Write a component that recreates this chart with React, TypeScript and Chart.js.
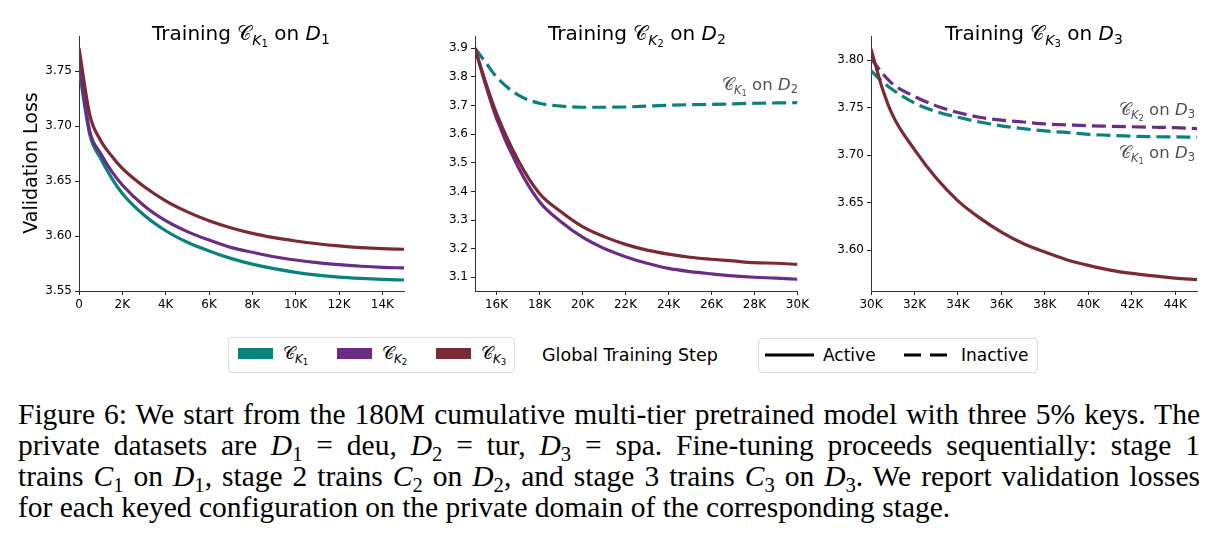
import React, { useEffect, useLayoutEffect, useRef } from "react";
import { Chart, registerables } from "chart.js";

Chart.register(...registerables);

const TEAL = "#0b817d";
const PURPLE = "#6a2d84";
const MAROON = "#7a2a33";

// ---------- Panel 1: training C_K1 on D1 ----------
const steps1 = [0, 500, 1000, 1500, 2000, 3000, 4000, 5000, 6000, 7000, 8000, 9000, 10000, 11000, 12000, 13000, 14000, 15000];
const k3OnD1 = [3.771, 3.71, 3.687, 3.673, 3.6615, 3.645, 3.632, 3.622, 3.614, 3.6076, 3.6024, 3.5985, 3.5955, 3.593, 3.591, 3.5895, 3.5885, 3.588];
const k2OnD1 = [3.758, 3.695, 3.675, 3.659, 3.6464, 3.6276, 3.614, 3.604, 3.5964, 3.5897, 3.5852, 3.5812, 3.5782, 3.5758, 3.574, 3.5725, 3.5715, 3.571];
const k1OnD1 = [3.752, 3.692, 3.6706, 3.653, 3.6388, 3.6191, 3.6048, 3.5943, 3.5864, 3.5797, 3.5745, 3.5703, 3.567, 3.5645, 3.5627, 3.5615, 3.5606, 3.56];
const xTicks1 = [0, 2000, 4000, 6000, 8000, 10000, 12000, 14000];
const yTicks1 = [3.55, 3.6, 3.65, 3.7, 3.75];

// ---------- Panel 2: training C_K2 on D2 ----------
const steps2 = [15000, 15500, 16000, 17000, 18000, 19000, 20000, 21000, 22000, 23000, 24000, 25000, 26000, 27000, 28000, 29000, 30000];
const k3OnD2 = [3.9, 3.78, 3.673, 3.51, 3.393, 3.329, 3.277, 3.242, 3.215, 3.195, 3.181, 3.17, 3.163, 3.157, 3.151, 3.149, 3.145];
const k2OnD2 = [3.9, 3.77, 3.655, 3.486, 3.364, 3.294, 3.24, 3.201, 3.172, 3.149, 3.131, 3.12, 3.112, 3.105, 3.1, 3.097, 3.093];
const k1OnD2 = [3.9, 3.85, 3.8, 3.737, 3.708, 3.698, 3.694, 3.694, 3.695, 3.698, 3.701, 3.703, 3.704, 3.706, 3.708, 3.709, 3.71];
const xTicks2 = [16000, 18000, 20000, 22000, 24000, 26000, 28000, 30000];
const yTicks2 = [3.1, 3.2, 3.3, 3.4, 3.5, 3.6, 3.7, 3.8, 3.9];

// ---------- Panel 3: training C_K3 on D3 ----------
const steps3 = [30000, 30500, 31000, 32000, 33000, 34000, 35000, 36000, 37000, 38000, 39000, 40000, 41000, 42000, 43000, 44000, 45000];
const k3OnD3 = [3.812, 3.772, 3.742, 3.706, 3.676, 3.652, 3.634, 3.619, 3.607, 3.598, 3.59, 3.584, 3.579, 3.5755, 3.573, 3.5705, 3.569];
const k2OnD3 = [3.802, 3.787, 3.775, 3.762, 3.752, 3.745, 3.74, 3.737, 3.735, 3.733, 3.732, 3.731, 3.7305, 3.73, 3.7295, 3.729, 3.728];
const k1OnD3 = [3.789, 3.778, 3.769, 3.755, 3.746, 3.74, 3.735, 3.731, 3.728, 3.7256, 3.724, 3.722, 3.721, 3.72, 3.7195, 3.7193, 3.719];
const xTicks3 = [30000, 32000, 34000, 36000, 38000, 40000, 42000, 44000];
const yTicks3 = [3.6, 3.65, 3.7, 3.75, 3.8];

const PAD_TOP = 16;
const X_AXIS_H = 29;
const FONT = "'DejaVu Sans', sans-serif";
const CAPTION_WIDTH = 1182;

type Series = { values: number[]; color: string; dashed: boolean };

function buildConfig(
  steps: number[],
  series: Series[],
  xMin: number,
  xMax: number,
  xTicks: number[],
  yMin: number,
  yMax: number,
  yTicks: number[],
  yDecimals: number,
  yWidth: number,
  padRight: number
): any {
  const tickFont = { family: "DejaVu Sans", size: 12 };
  const gridOpts = { drawOnChartArea: false, drawTicks: true, tickLength: 4, color: "#222", lineWidth: 1 };
  const borderOpts = { display: true, color: "#333", width: 1 };
  return {
    type: "line",
    data: {
      datasets: series.map((s) => ({
        data: steps.map((x, i) => ({ x, y: s.values[i] })),
        borderColor: s.color,
        backgroundColor: s.color,
        borderWidth: 3.2,
        borderDash: s.dashed ? [14, 6] : [],
        borderCapStyle: "butt",
        borderJoinStyle: "round",
        pointRadius: 0,
        pointHoverRadius: 0,
        fill: false,
        cubicInterpolationMode: "monotone",
      })),
    },
    options: {
      responsive: false,
      animation: false,
      devicePixelRatio: 1,
      events: [],
      layout: { padding: { top: PAD_TOP, right: padRight, left: 0, bottom: 0 } },
      plugins: {
        legend: { display: false },
        tooltip: { enabled: false },
        title: { display: false },
      },
      scales: {
        x: {
          type: "linear",
          min: xMin,
          max: xMax,
          afterBuildTicks: (s: any) => {
            s.ticks = xTicks.map((v) => ({ value: v }));
          },
          ticks: {
            autoSkip: false,
            maxRotation: 0,
            minRotation: 0,
            padding: 3,
            color: "#000",
            font: tickFont,
            callback: (v: number) => (v === 0 ? "0" : `${Math.round(v / 1000)}K`),
          },
          grid: gridOpts,
          border: borderOpts,
          afterFit: (s: any) => {
            s.height = X_AXIS_H;
          },
        },
        y: {
          type: "linear",
          min: yMin,
          max: yMax,
          afterBuildTicks: (s: any) => {
            s.ticks = yTicks.map((v) => ({ value: v }));
          },
          ticks: {
            autoSkip: false,
            padding: 3,
            color: "#000",
            font: tickFont,
            callback: (v: number) => Number(v).toFixed(yDecimals),
          },
          grid: gridOpts,
          border: borderOpts,
          afterFit: (s: any) => {
            s.width = yWidth;
          },
        },
      },
    },
  };
}

const CAL = "𝒞";

function CK({ n }: { n: string }) {
  return (
    <span style={{ whiteSpace: "nowrap" }}>
      <span>{CAL}</span>
      <span style={{ fontSize: "0.7em", position: "relative", top: "0.35em" }}>
        <i>K</i>
        <span style={{ fontSize: "0.72em", position: "relative", top: "0.25em" }}>{n}</span>
      </span>
    </span>
  );
}

function Dsub({ n }: { n: string }) {
  return (
    <span style={{ whiteSpace: "nowrap" }}>
      <i>D</i>
      <span style={{ fontSize: "0.7em", position: "relative", top: "0.3em" }}>{n}</span>
    </span>
  );
}

function Title({ cx, k, d }: { cx: number; k: string; d: string }) {
  return (
    <div
      style={{
        position: "absolute",
        left: cx - 160,
        width: 320,
        top: 21,
        height: 24,
        lineHeight: "24px",
        fontSize: 20,
        fontFamily: FONT,
        textAlign: "center",
        color: "#000",
        whiteSpace: "nowrap",
      }}
    >
      Training <CK n={k} /> on <Dsub n={d} />
    </div>
  );
}

function Note({ right, top, k, d }: { right: number; top: number; k: string; d: string }) {
  return (
    <div
      style={{
        position: "absolute",
        left: right - 200,
        width: 200,
        top,
        height: 22,
        lineHeight: "22px",
        fontSize: 16.5,
        fontFamily: FONT,
        textAlign: "right",
        color: "#505050",
        whiteSpace: "nowrap",
      }}
    >
      <CK n={k} /> on <Dsub n={d} />
    </div>
  );
}

function Label({ left, cy, size, children }: { left: number; cy: number; size: number; children: any }) {
  return (
    <div
      style={{
        position: "absolute",
        left,
        top: cy - 12,
        height: 24,
        lineHeight: "24px",
        fontSize: size,
        fontFamily: FONT,
        color: "#000",
        whiteSpace: "nowrap",
      }}
    >
      {children}
    </div>
  );
}

function Patch({ left, color }: { left: number; color: string }) {
  return <div style={{ position: "absolute", left, top: 348, width: 35, height: 11, background: color }} />;
}

const sub = (n: string) => (
  <span style={{ fontSize: "0.7em", position: "relative", top: "0.3em" }}>{n}</span>
);

const captionLines: any[] = [
  <>Figure 6: We start from the 180M cumulative multi-tier pretrained model with three 5% keys. The</>,
  <>
    private datasets are <Dsub n="1" /> = deu, <Dsub n="2" /> = tur, <Dsub n="3" /> = spa. Fine-tuning proceeds sequentially: stage 1
  </>,
  <>
    trains <i>C</i>
    {sub("1")} on <Dsub n="1" />, stage 2 trains <i>C</i>
    {sub("2")} on <Dsub n="2" />, and stage 3 trains <i>C</i>
    {sub("3")} on <Dsub n="3" />. We report validation losses
  </>,
  <>for each keyed configuration on the private domain of the corresponding stage.</>,
];

export default function App() {
  const c1 = useRef<HTMLCanvasElement>(null);
  const c2 = useRef<HTMLCanvasElement>(null);
  const c3 = useRef<HTMLCanvasElement>(null);
  const lineRefs = useRef<(HTMLSpanElement | null)[]>([]);

  // justify the caption lines by adjusting word spacing
  useLayoutEffect(() => {
    lineRefs.current.forEach((el, i) => {
      if (!el || i >= 3) return;
      el.style.wordSpacing = "0px";
      const w = el.getBoundingClientRect().width;
      const spaces = (el.textContent || "").split(" ").length - 1;
      if (spaces > 0) el.style.wordSpacing = `${(CAPTION_WIDTH - w) / spaces}px`;
    });
  }, []);

  useEffect(() => {
    const charts: Chart[] = [];
    if (c1.current) {
      charts.push(
        new Chart(
          c1.current,
          buildConfig(
            steps1,
            [
              { values: k3OnD1, color: MAROON, dashed: false },
              { values: k2OnD1, color: PURPLE, dashed: false },
              { values: k1OnD1, color: TEAL, dashed: false },
            ],
            0,
            15000,
            xTicks1,
            3.55,
            3.782,
            yTicks1,
            2,
            79,
            16
          )
        )
      );
    }
    if (c2.current) {
      charts.push(
        new Chart(
          c2.current,
          buildConfig(
            steps2,
            [
              { values: k3OnD2, color: MAROON, dashed: false },
              { values: k2OnD2, color: PURPLE, dashed: false },
              { values: k1OnD2, color: TEAL, dashed: true },
            ],
            15000,
            30000,
            xTicks2,
            3.052,
            3.943,
            yTicks2,
            1,
            55,
            12
          )
        )
      );
    }
    if (c3.current) {
      charts.push(
        new Chart(
          c3.current,
          buildConfig(
            steps3,
            [
              { values: k3OnD3, color: MAROON, dashed: false },
              { values: k2OnD3, color: PURPLE, dashed: true },
              { values: k1OnD3, color: TEAL, dashed: true },
            ],
            30000,
            45000,
            xTicks3,
            3.557,
            3.8256,
            yTicks3,
            2,
            59,
            12
          )
        )
      );
    }
    return () => charts.forEach((c) => c.destroy());
  }, []);

  return (
    <div
      style={{
        position: "absolute",
        left: 0,
        top: 0,
        width: 1221,
        height: 545,
        background: "#fff",
        overflow: "hidden",
      }}
    >
      <canvas ref={c1} width={420} height={300} style={{ position: "absolute", left: 0, top: 20 }} />
      <canvas ref={c2} width={392} height={300} style={{ position: "absolute", left: 420, top: 20 }} />
      <canvas ref={c3} width={397} height={300} style={{ position: "absolute", left: 812, top: 20 }} />

      <Title cx={241} k="1" d="1" />
      <Title cx={637} k="2" d="2" />
      <Title cx={1034} k="3" d="3" />

      <div
        style={{
          position: "absolute",
          left: 30 - 100,
          top: 163 - 12,
          width: 200,
          height: 24,
          lineHeight: "24px",
          fontSize: 19,
          fontFamily: FONT,
          textAlign: "center",
          transform: "rotate(-90deg)",
          color: "#000",
        }}
      >
        Validation Loss
      </div>

      <Note right={798} top={74} k="1" d="2" />
      <Note right={1195} top={99} k="2" d="3" />
      <Note right={1195} top={142} k="1" d="3" />

      {/* legend: keys */}
      <div
        style={{
          position: "absolute",
          left: 228,
          top: 337,
          width: 285,
          height: 34,
          border: "1px solid #dcdcdc",
          borderRadius: 4,
          background: "#fff",
        }}
      />
      <Patch left={238} color={TEAL} />
      <Patch left={337} color={PURPLE} />
      <Patch left={436} color={MAROON} />
      <Label left={283} cy={353} size={17}>
        <CK n="1" />
      </Label>
      <Label left={382} cy={353} size={17}>
        <CK n="2" />
      </Label>
      <Label left={481} cy={353} size={17}>
        <CK n="3" />
      </Label>

      <Label left={542} cy={355} size={17.5}>
        Global Training Step
      </Label>

      {/* legend: line styles */}
      <div
        style={{
          position: "absolute",
          left: 758,
          top: 338,
          width: 278,
          height: 33,
          border: "1px solid #dcdcdc",
          borderRadius: 4,
          background: "#fff",
        }}
      />
      <svg style={{ position: "absolute", left: 760, top: 345 }} width={200} height={20}>
        <line x1={5} y1={10} x2={54} y2={10} stroke="#000" strokeWidth={3} />
        <line x1={144} y1={10} x2={187} y2={10} stroke="#000" strokeWidth={3} strokeDasharray="17 9" />
      </svg>
      <Label left={823} cy={355} size={17}>
        Active
      </Label>
      <Label left={961} cy={355} size={17}>
        Inactive
      </Label>

      {/* caption */}
      {captionLines.map((ln, i) => (
        <div
          key={i}
          style={{
            position: "absolute",
            left: 18,
            width: CAPTION_WIDTH + 40,
            top: 398.5 + i * 31,
            height: 31,
            lineHeight: "31px",
            fontSize: 29.5,
            fontFamily: "'Liberation Serif', 'Times New Roman', serif",
            color: "#000",
            whiteSpace: "nowrap",
          }}
        >
          <span
            ref={(el) => {
              lineRefs.current[i] = el;
            }}
          >
            {ln}
          </span>
        </div>
      ))}
    </div>
  );
}
